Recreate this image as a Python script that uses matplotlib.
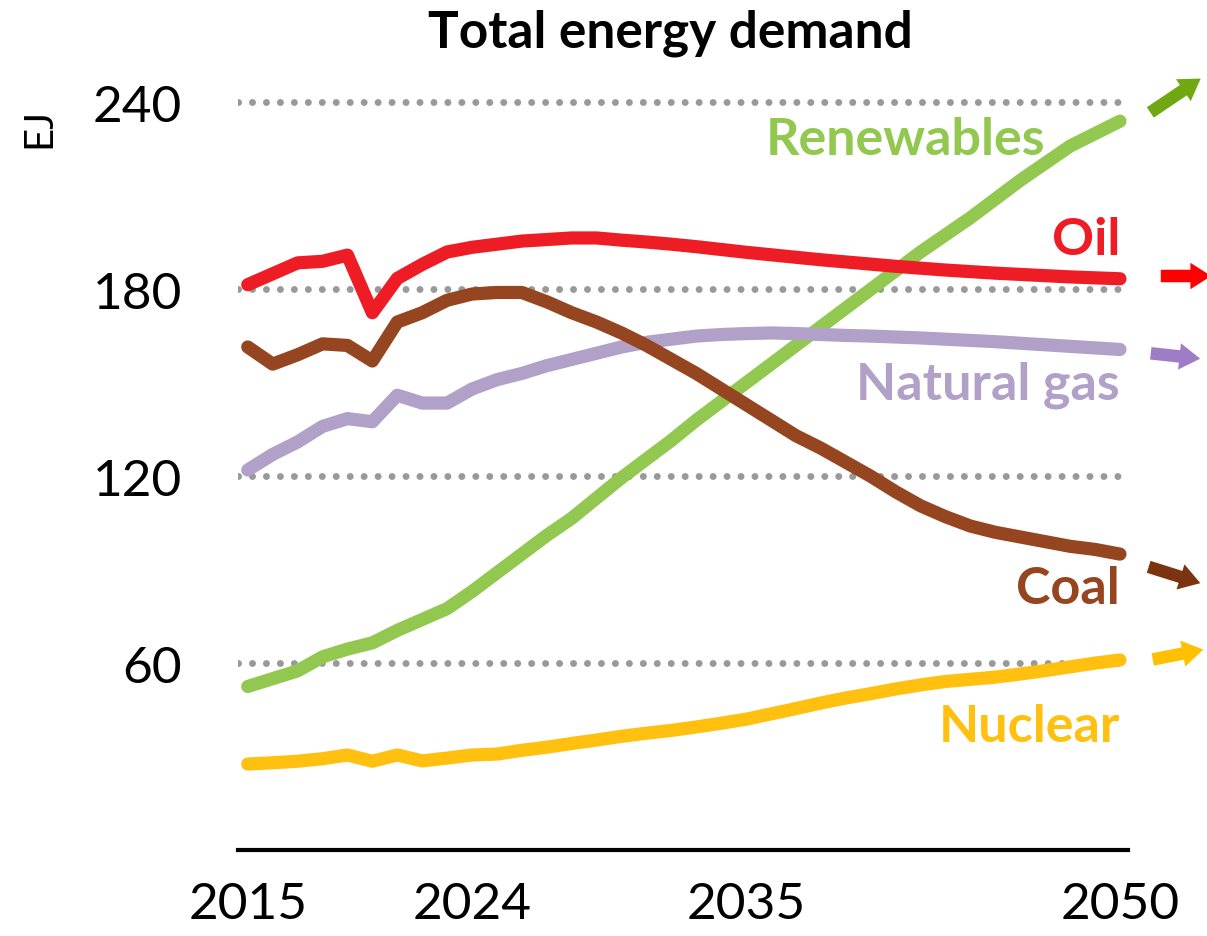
import matplotlib.pyplot as plt
from matplotlib.patches import FancyArrowPatch
import numpy as np

plt.rcParams['font.family'] = ['Lato', 'DejaVu Sans']

years = np.arange(2015, 2051)

oil = [181.5, 185, 188.5, 189, 191, 172.5, 183.5, 188, 192, 193.5,
       194.5, 195.5, 196, 196.5, 196.5, 195.8, 195.2, 194.5, 193.7, 192.8,
       191.9, 191.1, 190.3, 189.5, 188.8, 188.1, 187.4, 186.8, 186.2, 185.7,
       185.2, 184.8, 184.4, 184, 183.7, 183.4]
renewables = [52.5, 55, 57.5, 62, 64.5, 66.5, 70.5, 74, 77.5, 83,
              89, 95, 101, 106.5, 113, 119.5, 125.5, 131.5, 138, 144,
              150, 156, 162, 168, 174, 180, 186, 192, 197.5, 203,
              209, 215, 220.5, 226, 230, 234]
coal = [161.5, 156, 159, 162.5, 162, 157, 169.5, 172.5, 176.5, 178.5,
        179, 179, 176, 172.5, 169.5, 166, 162, 157.5, 153, 148,
        143, 138, 133, 129, 124.5, 120, 115, 110.5, 107, 104,
        102, 100.5, 99, 97.5, 96.5, 95]
gas = [122, 127, 131, 136, 138.5, 137.5, 146, 143.5, 143.5, 148,
       151, 153, 155.5, 157.5, 159.5, 161.5, 163, 164, 165, 165.5,
       165.8, 166, 165.8, 165.5, 165.2, 165, 164.7, 164.4, 164, 163.6,
       163.2, 162.7, 162.2, 161.7, 161.2, 160.7]
nuclear = [27.6, 28, 28.5, 29.3, 30.5, 28.5, 30.5, 28.6, 29.5, 30.5,
           30.8, 32, 33, 34.2, 35.3, 36.5, 37.5, 38.4, 39.5, 40.7,
           42, 43.7, 45.4, 47.2, 48.8, 50.2, 51.7, 53, 54.1, 54.8,
           55.5, 56.5, 57.6, 58.8, 60, 61]

series = [
    ("Renewables", renewables, "#92C84F", 2047.0, 228),
    ("Oil", oil, "#EE1C25", 2050, 196),
    ("Natural gas", gas, "#B1A0C8", 2050, 149.5),
    ("Coal", coal, "#954520", 2050, 83.8),
    ("Nuclear", nuclear, "#FFC010", 2050, 39.5),
]

xticks = [2015, 2024, 2035, 2050]
yticks = [60, 120, 180, 240]

fig = plt.figure(figsize=(12.07, 9.37), dpi=100)
ax = fig.add_axes([0.197, 0.0918, 0.7375, 0.831])

for y in yticks:
    ax.axhline(y, color='#999999', lw=5, ls=(0, (0.01, 2.0)),
               dash_capstyle='round', zorder=1)

for name, vals, col, tx, ty in series:
    ax.plot(years, vals, color=col, lw=9.5, solid_capstyle='round',
            solid_joinstyle='round', zorder=3)
    ax.text(tx, ty, name, color=col, fontsize=37.5, fontweight='bold',
            ha='right', va='center', zorder=4)

ax.set_xlim(2014.6, 2050.32)
ax.set_ylim(0, 250)
ax.set_xticks(xticks)
ax.set_yticks(yticks)
ax.tick_params(length=0, labelsize=37)
ax.tick_params(axis='y', pad=40)
ax.tick_params(axis='x', pad=22)
for s in ['top', 'right', 'left']:
    ax.spines[s].set_visible(False)
ax.spines['bottom'].set_linewidth(3)

fig.text(0.555, 0.965, "Total energy demand", fontsize=37,
         fontweight='bold', ha='center', va='center')
fig.text(0.032, 0.863, "EJ", fontsize=29, rotation=90,
         ha='center', va='center')

# arrows on the right edge (pixel positions from the top-left corner)
arrows = [
    ((1148, 115), (1203, 78), "#6FA810"),
    ((1158, 277), (1214, 277), "#FF0000"),
    ((1148, 354), (1203, 360), "#9E7CC6"),
    ((1146, 567), (1203, 585), "#7A3510"),
    ((1150, 661), (1206, 650), "#FFC000"),
]
W, H = 1207, 937
for (x0, y0), (x1, y1), col in arrows:
    a = FancyArrowPatch((x0 / W, 1 - y0 / H), (x1 / W, 1 - y1 / H),
                        transform=fig.transFigure,
                        arrowstyle="simple,head_width=19,head_length=15,tail_width=9",
                        mutation_scale=1, color=col, lw=0)
    fig.patches.append(a)

fig.savefig("out.png", dpi=100)
